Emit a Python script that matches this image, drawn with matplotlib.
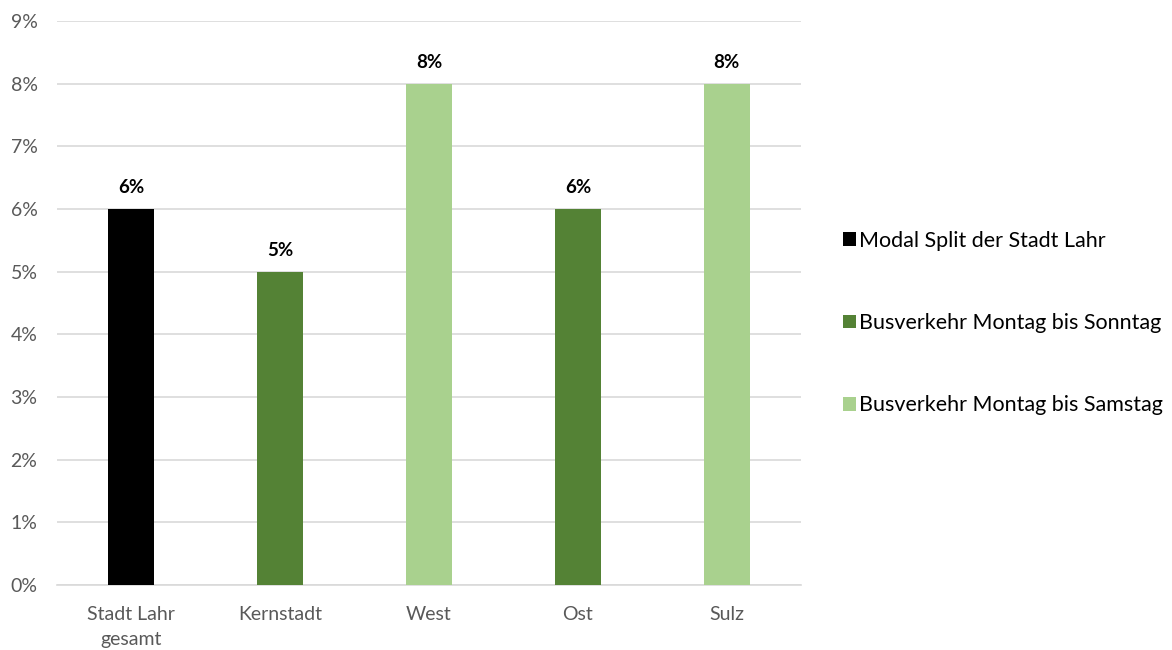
import matplotlib
matplotlib.use("Agg")
import matplotlib.pyplot as plt
from matplotlib.patches import Patch
from matplotlib.ticker import FuncFormatter, MultipleLocator

plt.rcParams['font.family'] = ['Lato', 'DejaVu Sans']

categories = ["Stadt Lahr\ngesamt", "Kernstadt", "West", "Ost", "Sulz"]
values = [6, 5, 8, 6, 8]
groups = [0, 1, 2, 1, 2]
series_names = ["Modal Split der Stadt Lahr",
                "Busverkehr Montag bis Sonntag",
                "Busverkehr Montag bis Samstag"]
series_colors = ["#000000", "#548235", "#A9D18E"]

fig = plt.figure(figsize=(11.72, 6.5), dpi=100)
ax = fig.add_axes([0.0486, 0.1, 0.635, 0.8677])

x = list(range(len(categories)))
bars = ax.bar(x, values, width=0.31, color=[series_colors[g] for g in groups], zorder=3)

for xi, v in zip(x, values):
    ax.text(xi, v + 0.2, f"{v}%", ha="center", va="bottom",
            fontsize=13.5, fontweight="bold", color="#000000")

ax.set_xlim(-0.5, len(categories) - 0.5)
ax.set_ylim(0, 9)
ax.yaxis.set_major_locator(MultipleLocator(1))
ax.yaxis.set_major_formatter(FuncFormatter(lambda v, p: f"{v:.0f}%"))
ax.set_xticks(x)
ax.set_xticklabels(categories, linespacing=1.55)
ax.grid(axis="y", color="#D9D9D9", linewidth=1.2, zorder=0)
for side in ["top", "right", "left"]:
    ax.spines[side].set_visible(False)
ax.spines["bottom"].set_color("#D9D9D9")
ax.spines["bottom"].set_linewidth(1.2)
ax.tick_params(axis="both", length=0, labelsize=14, labelcolor="#595959")
ax.tick_params(axis="x", pad=15)
ax.tick_params(axis="y", pad=14)

handles = [Patch(facecolor=c, edgecolor="none") for c in series_colors]
fig.legend(handles, series_names, loc="center left", bbox_to_anchor=(0.712, 0.503),
           frameon=False, fontsize=15.5, handlelength=0.6, handleheight=0.6,
           handletextpad=0.15, labelspacing=2.9, borderaxespad=0)

fig.savefig("out.png", dpi=100, facecolor="white")
